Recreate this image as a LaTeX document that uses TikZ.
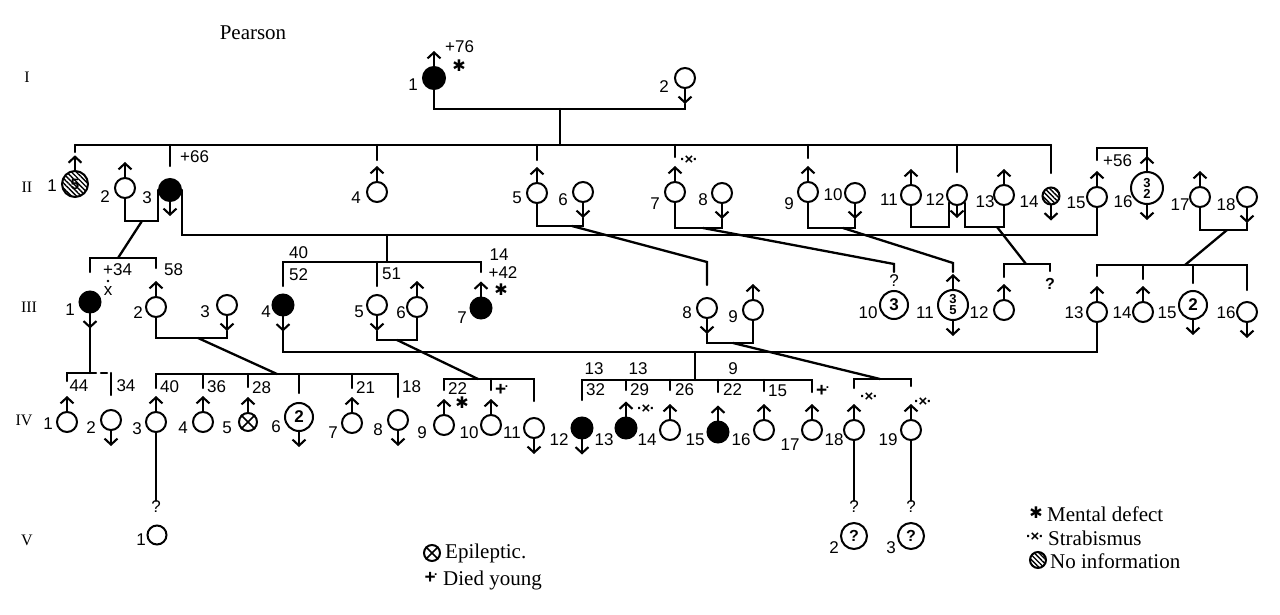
\documentclass[tikz,border=0pt]{standalone}
\usepackage{fontspec}
\setmainfont{Liberation Serif}
\newfontfamily\hand{Liberation Sans}
\newfontfamily\dejavu{DejaVu Sans}
\usetikzlibrary{arrows.meta,patterns.meta}
\tikzset{
 ln/.style={line width=2.3pt,line cap=round},
 pers/.style={circle,draw,line width=2pt,minimum size=20pt,inner sep=0pt,align=center,
   font=\hand\bfseries\fontsize{15}{15}\selectfont},
 aff/.style={fill=black},
 noinf/.style={pattern={Lines[angle=-45,distance=3.4pt,line width=1.4pt]}},
 arr/.style={line width=2.1pt,line cap=round,-{Straight Barb[length=6pt,width=13pt]}},
 lab/.style={font=\hand\fontsize{17}{17}\selectfont,inner sep=0pt},
 rom/.style={font=\fontsize{16}{16}\selectfont,inner sep=0pt},
 leg/.style={font=\fontsize{21}{21}\selectfont,inner sep=0pt,anchor=west},
 two/.style={font=\hand\bfseries\fontsize{13}{13}\selectfont},
}
\newcounter{lc}
\newcommand\lbl[3]{\stepcounter{lc}\node[lab] (t\arabic{lc}) at (#1,#2) {#3};}
\newcommand\lblw[3]{\stepcounter{lc}\node[lab,anchor=west] (t\arabic{lc}) at (#1,#2) {#3};}
\newcommand\pMale[5][]{\node[pers,#1] (#2) at (#3,#4) {#5};\draw[arr] (#2.north) -- ++(0,-15);}
\newcommand\pFem[5][]{\node[pers,#1] (#2) at (#3,#4) {#5};\draw[arr] (#2.south) -- ++(0,15) coordinate (#2-t);}
\newcommand\pBoth[5][]{\node[pers,#1] (#2) at (#3,#4) {#5};\draw[arr] (#2.north) -- ++(0,-15);\draw[arr] (#2.south) -- ++(0,15) coordinate (#2-t);}
\newcommand\epix[1]{\draw[line width=1.6pt] (#1.45) -- (#1.225) (#1.135) -- (#1.-45);}
\newcommand\strab{{\hand\bfseries\fontsize{15}{15}\selectfont\textperiodcentered\kern-0.5pt×\kern-0.5pt\textperiodcentered}}
\newcommand\mast{{\dejavu\fontsize{16}{16}\selectfont ✱}}
\newcommand\dyoung{{\hand\bfseries\fontsize{19}{19}\selectfont +\kern-1.5pt\raisebox{0.4em}{\fontsize{12}{12}\selectfont.}}}
\begin{document}
\begin{tikzpicture}[x=1pt,y=-1pt]
\fill[white] (0,0) rectangle (1280,615);
\path[use as bounding box] (0,0) rectangle (1280,615);

% titles and generation numbers
\node[leg,anchor=center] (title) at (253,33) {Pearson};
\node[rom] (gI) at (27,77) {I};
\node[rom] (gII) at (27,187) {II};
\node[rom] (gIII) at (29,307) {III};
\node[rom] (gIV) at (24,420) {IV};
\node[rom] (gV) at (27,540) {V};

% ---------- generation I
\pMale[aff,minimum size=22pt]{I1}{434}{78}{}
\pFem{I2}{685}{78}{}
\coordinate (mI) at (560,109);
\coordinate (sII) at (560,145);
\draw[ln] (I1.south) |- (mI) -| (I2-t);
\draw[ln] (mI) -- (sII);
\lblw{445}{47}{+76}
\node[inner sep=0pt] (a1) at (459,66) {\mast};
\lbl{413}{85}{1}
\lbl{664}{87}{2}

% ---------- generation II
\pMale[noinf,minimum size=26pt]{II1}{75}{184}{5}
\pMale{II2}{125}{188}{}
\node[pers,aff,minimum size=22pt] (II3) at (170,190) {};
\draw[arr] (II3.south) -- ++(0,14);
\pMale{II4}{377}{192}{}
\pMale{II5}{537}{193}{}
\pFem{II6}{583}{192}{}
\pMale{II7}{675}{192}{}
\pFem{II8}{722}{193}{}
\pMale{II9}{808}{192}{}
\pFem{II10}{855}{193}{}
\pMale{II11}{911}{195}{}
\node[pers] (II12) at (957,195) {};
\draw[arr] (II12.south) -- ++(0,12);
\pMale{II13}{1004}{195}{}
\pFem[noinf,minimum size=17pt]{II14}{1051}{196}{}
\pMale{II15}{1097}{197}{}
\pBoth[minimum size=32pt,two]{II16}{1147}{188}{3\\[-2pt]2}
\pMale{II17}{1200}{197}{}
\pFem{II18}{1247}{197}{}

\draw[ln] (II1.north |- sII) -- (II14.north |- sII);
\foreach \n/\e in {II1/152,II3/166,II4/160,II5/160,II7/157,II9/158,II12/172,II14/173}
  \draw[ln] (\n.north |- sII) -- (\n.north |- 0,\e);
\coordinate (b1516) at (1120,148);
\draw[ln] (II15.north |- 0,160) |- (b1516) -| (II16.north |- 0,157);

\coordinate (m23) at (142,221);
\draw[ln] (II2.south) |- (m23) -| (II3.west);
\coordinate (m315) at (387,235);
\draw[ln] (II3.east) |- (m315) -| (II15.south);
\coordinate (m56) at (572,226);
\draw[ln] (II5.south) |- (m56) -| (II6-t);
\coordinate (m78) at (703,228);
\draw[ln] (II7.south) |- (m78) -| (II8-t);
\coordinate (m910) at (843,228);
\draw[ln] (II9.south) |- (m910) -| (II10-t);
\coordinate (m1112) at (930,227);
\draw[ln] (II11.south) |- (m1112) -| (II12.south west);
\coordinate (m1213) at (997,227);
\draw[ln] (II12.south east) |- (m1213) -| (II13.south);
\coordinate (m1718) at (1227,230);
\draw[ln] (II17.south) |- (m1718) -| (II18-t);

\lbl{52}{186}{1}
\lbl{105}{197}{2}
\lbl{147}{198}{3}
\lblw{180}{157}{+66}
\lbl{356}{198}{4}
\lbl{517}{198}{5}
\lbl{563}{200}{6}
\lbl{655}{204}{7}
\node[inner sep=0pt] (x1) at (689,160) {\strab};
\lbl{703}{200}{8}
\lbl{789}{204}{9}
\lbl{833}{195}{10}
\lbl{889}{200}{11}
\lbl{935}{200}{12}
\lbl{985}{202}{13}
\lbl{1029}{202}{14}
\lbl{1076}{203}{15}
\lblw{1103}{161}{+56}
\lbl{1123}{202}{16}
\lbl{1180}{205}{17}
\lbl{1226}{205}{18}

% ---------- generation III
\pFem[aff,minimum size=21pt]{III1}{90}{302}{}
\pMale{III2}{156}{307}{}
\pFem{III3}{227}{305}{}
\pFem[aff,minimum size=21pt]{III4}{283}{305}{}
\pFem{III5}{377}{305}{}
\pMale{III6}{417}{307}{}
\pMale[aff,minimum size=21pt]{III7}{481}{308}{}
\pFem{III8}{707}{308}{}
\pMale{III9}{753}{310}{}
\node[pers,minimum size=28pt,font=\hand\bfseries\fontsize{17}{17}\selectfont] (III10) at (894,305) {3};
\node[lab] (q10) at (894,281) {?};
\pBoth[minimum size=30pt,two]{III11}{953}{305}{3\\[-2pt]5}
\pMale{III12}{1004}{310}{}
\node[lab,font=\hand\bfseries\fontsize{16}{16}\selectfont] (q12) at (1050,284) {?};
\pMale{III13}{1097}{312}{}
\pMale{III14}{1143}{312}{}
\pFem[minimum size=28pt,font=\hand\bfseries\fontsize{17}{17}\selectfont]{III15}{1193}{305}{2}
\pFem{III16}{1247}{312}{}

\coordinate (s1) at (118,258);
\draw[ln] (m23) -- (s1);
\draw[ln] (III1.north |- 0,272) -- (III1.north |- s1) -- (III2.north |- s1) -- (III2.north |- 0,268);
\coordinate (s2) at (387,262);
\draw[ln] (m315) -- (s2);
\draw[ln] (III4.north |- 0,286) -- (III4.north |- s2) -- (III7.north |- s2) -- (III7.north |- 0,272);
\draw[ln] (III5.north |- s2) -- (III5.north |- 0,286);
\draw[ln] (m56) -- (III8.north |- 0,262) -- (III8.north |- 0,285);
\draw[ln] (m78) -- (III10.north |- 0,264) -- (III10.north |- 0,272);
\draw[ln] (m910) -- (III11.north |- 0,263) -- (III11.north |- 0,272);
\coordinate (s12) at (1026,264);
\draw[ln] (m1213) -- (s12);
\draw[ln] (III12.north |- 0,277) -- (III12.north |- s12) -- (q12.north |- s12) -- (q12.north |- 0,271);
\coordinate (s3) at (1185,265);
\draw[ln] (m1718) -- (s3);
\draw[ln] (III13.north |- 0,276) -- (III13.north |- s3) -- (III16.north |- s3) -- (III16.north |- 0,290);
\draw[ln] (III14.north |- s3) -- (III14.north |- 0,279);
\draw[ln] (III15.north |- s3) -- (III15.north |- 0,283);

\coordinate (m23b) at (198,338);
\draw[ln] (III2.south) |- (m23b) -| (III3-t);
\coordinate (m56b) at (397,340);
\draw[ln] (III5-t) |- (m56b) -| (III6.south);
\coordinate (m89) at (733,343);
\draw[ln] (III8-t) |- (m89) -| (III9.south);
\coordinate (m413) at (695,352);
\draw[ln] (III13.south) |- (m413) -| (III4-t);

\lbl{70}{310}{1}
\lblw{103}{270}{+34}
\node[lab] (x2) at (108,291) {x};
\fill (108,281) circle (1.4pt);
\lblw{164}{270}{58}
\lbl{138}{313}{2}
\lbl{205}{312}{3}
\lblw{289}{253}{40}
\lblw{289}{275}{52}
\lblw{382}{274}{51}
\lbl{266}{312}{4}
\lbl{359}{312}{5}
\lbl{401}{313}{6}
\lbl{499}{255}{14}
\lbl{503}{273}{+42}
\node[inner sep=0pt] (a2) at (501,290) {\mast};
\lbl{462}{318}{7}
\lbl{687}{313}{8}
\lbl{733}{317}{9}
\lbl{868}{313}{10}
\lbl{925}{313}{11}
\lbl{979}{313}{12}
\lbl{1074}{313}{13}
\lbl{1122}{313}{14}
\lbl{1167}{313}{15}
\lbl{1226}{313}{16}

% ---------- generation IV
\pMale{IV1}{67}{422}{}
\pFem{IV2}{111}{420}{}
\pMale{IV3}{156}{422}{}
\pMale{IV4}{203}{422}{}
\pMale[minimum size=18pt]{IV5}{248}{422}{}
\epix{IV5}
\pFem[minimum size=28pt,font=\hand\bfseries\fontsize{17}{17}\selectfont]{IV6}{299}{417}{2}
\pMale{IV7}{352}{423}{}
\pFem{IV8}{398}{420}{}
\pMale{IV9}{444}{425}{}
\pMale{IV10}{491}{425}{}
\pFem{IV11}{534}{428}{}
\pFem[aff,minimum size=21pt]{IV12}{582}{428}{}
\pMale[aff,minimum size=21pt]{IV13}{626}{428}{}
\pMale{IV14}{670}{430}{}
\pMale[aff,minimum size=21pt]{IV15}{718}{432}{}
\pMale{IV16}{764}{430}{}
\pMale{IV17}{812}{430}{}
\pMale{IV18}{854}{430}{}
\pMale{IV19}{911}{430}{}

\coordinate (s0) at (90,373);
\draw[ln] (III1-t) -- (s0);
\draw[ln] (IV1.north |- 0,381) -- (IV1.north |- s0) -- (s0);
\draw[ln,dash pattern=on 6pt off 5pt] (s0) -- (IV2.north |- s0);
\draw[ln] (IV2.north |- s0) -- (IV2.north |- 0,395);
\coordinate (s5) at (277,374);
\draw[ln] (m23b) -- (s5);
\draw[ln] (IV3.north |- 0,388) -- (IV3.north |- s5) -- (IV8.north |- s5) -- (IV8.north |- 0,397);
\foreach \n/\e in {IV4/388,IV5/387,IV6/393,IV7/388}
  \draw[ln] (\n.north |- s5) -- (\n.north |- 0,\e);
\coordinate (s6) at (478,379);
\draw[ln] (m56b) -- (s6);
\draw[ln] (IV9.north |- 0,390) -- (IV9.north |- s6) -- (IV11.north |- s6) -- (IV11.north |- 0,401);
\draw[ln] (IV10.north |- s6) -- (IV10.north |- 0,390);
\coordinate (s4) at (695,380);
\draw[ln] (m413) -- (s4);
\draw[ln] (IV12.north |- 0,400) -- (IV12.north |- s4) -- (IV17.north |- s4) -- (IV17.north |- 0,392);
\foreach \n/\e in {IV13/390,IV14/390,IV15/392,IV16/391}
  \draw[ln] (\n.north |- s4) -- (\n.north |- 0,\e);
\coordinate (s7) at (880,379);
\draw[ln] (m89) -- (s7);
\draw[ln] (IV18.north |- 0,388) -- (IV18.north |- s7) -- (IV19.north |- s7) -- (IV19.north |- 0,386);

\lbl{48}{424}{1}
\lbl{79}{386}{44}
\lbl{126}{386}{34}
\lbl{91}{428}{2}
\lbl{137}{429}{3}
\lblw{160}{387}{40}
\lbl{183}{428}{4}
\lblw{207}{387}{36}
\lbl{227}{428}{5}
\lblw{252}{388}{28}
\lbl{276}{427}{6}
\lbl{333}{433}{7}
\lblw{356}{388}{21}
\lbl{378}{430}{8}
\lblw{402}{387}{18}
\lbl{422}{433}{9}
\lblw{448}{389}{22}
\node[inner sep=0pt] (a3) at (462,403) {\mast};
\lbl{469}{433}{10}
\node[inner sep=0pt,anchor=west] (d1) at (495,390) {\dyoung};
\lbl{512}{433}{11}
\lbl{594}{369}{13}
\lbl{638}{369}{13}
\lbl{733}{369}{9}
\lblw{586}{390}{32}
\lblw{630}{390}{29}
\lblw{675}{390}{26}
\lblw{723}{390}{22}
\lblw{768}{391}{15}
\node[inner sep=0pt,anchor=west] (d2) at (816,391) {\dyoung};
\lbl{559}{440}{12}
\lbl{604}{440}{13}
\node[inner sep=0pt] (x3) at (646,409) {\strab};
\lbl{647}{440}{14}
\lbl{695}{440}{15}
\lbl{741}{440}{16}
\lbl{790}{445}{17}
\lbl{834}{440}{18}
\node[inner sep=0pt] (x4) at (869,397) {\strab};
\lbl{888}{440}{19}
\node[inner sep=0pt] (x5) at (923,402) {\strab};

% ---------- generation V
\node[lab] (q1) at (156,507) {?};
\node[lab] (q2) at (854,507) {?};
\node[lab] (q3) at (911,507) {?};
\node[pers,minimum size=19pt] (V1) at (157,535) {};
\node[pers,minimum size=26pt,font=\hand\bfseries\fontsize{16}{16}\selectfont] (V2) at (854,536) {?};
\node[pers,minimum size=26pt,font=\hand\bfseries\fontsize{16}{16}\selectfont] (V3) at (911,536) {?};
\draw[ln] (IV3.south) -- (q1.north);
\draw[ln] (IV18.south) -- (q2.north);
\draw[ln] (IV19.south) -- (q3.north);
\lbl{141}{540}{1}
\lbl{834}{548}{2}
\lbl{891}{548}{3}

% ---------- legend
\node[pers,minimum size=16pt] (le) at (432,553) {};
\epix{le}
\node[leg] (let) at (445,553) {Epileptic.};
\node[inner sep=0pt] (ld) at (431,578) {\dyoung};
\node[leg] (ldt) at (443,580) {Died young};
\node[inner sep=0pt] (lm) at (1036,513) {\mast};
\node[leg] (lmt) at (1047,514) {Mental defect};
\node[inner sep=0pt] (ls) at (1035,537) {\strab};
\node[leg] (lst) at (1048,538) {Strabismus};
\node[pers,noinf,minimum size=16pt] (lno) at (1038,560) {};
\node[leg] (lnt) at (1050,561) {No information};
\end{tikzpicture}
\end{document}
